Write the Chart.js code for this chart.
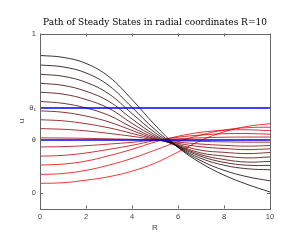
<!DOCTYPE html>
<html>
<head>
<meta charset="utf-8">
<script src="https://cdn.jsdelivr.net/npm/chart.js@4.4.1/dist/chart.umd.min.js"></script>
<style>
  html, body { margin: 0; padding: 0; background: #fff; }
  #wrap { width: 300px; height: 250px; }
</style>
</head>
<body>
<div id="wrap"><canvas id="chart" width="300" height="250"></canvas></div>
<script>
// sample positions along R
var radius = [0, 1, 2, 3, 4, 5, 6, 7, 8, 9, 10];

// steady state profiles (black at the top, red at the bottom)
var u00 = [0.862, 0.850, 0.812, 0.728, 0.585, 0.425, 0.285, 0.185, 0.110, 0.052, 0.004];
var u01 = [0.802, 0.790, 0.752, 0.672, 0.536, 0.396, 0.285, 0.200, 0.140, 0.100, 0.074];
var u02 = [0.744, 0.731, 0.693, 0.620, 0.497, 0.377, 0.287, 0.215, 0.172, 0.150, 0.143];
var u03 = [0.687, 0.674, 0.637, 0.573, 0.463, 0.362, 0.290, 0.228, 0.190, 0.172, 0.171];
var u04 = [0.631, 0.619, 0.585, 0.529, 0.435, 0.352, 0.293, 0.238, 0.208, 0.192, 0.196];
var u05 = [0.573, 0.561, 0.532, 0.485, 0.410, 0.344, 0.297, 0.249, 0.230, 0.218, 0.224];
var u06 = [0.514, 0.505, 0.481, 0.444, 0.391, 0.338, 0.302, 0.266, 0.253, 0.245, 0.252];
var u07 = [0.458, 0.451, 0.433, 0.407, 0.372, 0.335, 0.309, 0.288, 0.277, 0.270, 0.275];
var u08 = [0.402, 0.398, 0.388, 0.372, 0.354, 0.332, 0.317, 0.305, 0.297, 0.292, 0.296];
var u09 = [0.344, 0.343, 0.341, 0.338, 0.335, 0.330, 0.326, 0.322, 0.319, 0.317, 0.317];
var u10 = [0.287, 0.289, 0.295, 0.305, 0.316, 0.330, 0.338, 0.344, 0.348, 0.349, 0.349];
var u11 = [0.229, 0.234, 0.249, 0.272, 0.297, 0.327, 0.348, 0.362, 0.370, 0.371, 0.367];
var u12 = [0.173, 0.179, 0.198, 0.232, 0.272, 0.318, 0.354, 0.379, 0.392, 0.395, 0.389];
var u13 = [0.114, 0.120, 0.140, 0.173, 0.215, 0.267, 0.320, 0.362, 0.393, 0.408, 0.411];
var u14 = [0.058, 0.062, 0.078, 0.100, 0.135, 0.185, 0.255, 0.328, 0.382, 0.416, 0.433];
var profiles = [u00, u01, u02, u03, u04, u05, u06, u07, u08, u09, u10, u11, u12, u13, u14];

// the two horizontal levels
var theta = 0.331;
var theta1 = 0.531;

// ticks
var xTicks = [0, 2, 4, 6, 8, 10];
var yTicks = [0, theta, theta1, 1];
var yTickLabels = ['0', 'θ', 'θ₁', '1'];

var datasets = profiles.map(function (p, i) {
    var k = Math.round(255 * i / (profiles.length - 1));
    return {
        data: p.map(function (v, j) { return { x: radius[j], y: v }; }),
        borderColor: 'rgb(' + k + ',0,0)',
        borderWidth: 0.8,
        pointRadius: 0,
        tension: 0.4,
        order: 2
    };
});
[theta1, theta].forEach(function (level) {
    datasets.push({
        data: [{ x: radius[0], y: level }, { x: radius[radius.length - 1], y: level }],
        borderColor: '#0000ff',
        borderWidth: 1.5,
        pointRadius: 0,
        order: 1
    });
});

// box round the plot with small inward ticks, like the original
var framePlugin = {
    id: 'frame',
    afterDraw: function (chart) {
        var ctx = chart.ctx, a = chart.chartArea;
        var sx = chart.scales.x, sy = chart.scales.y;
        ctx.save();
        ctx.strokeStyle = '#666';
        ctx.lineWidth = 1;
        ctx.strokeRect(Math.round(a.left) + 0.5, Math.round(a.top) + 0.5,
            Math.round(a.right - a.left), Math.round(a.bottom - a.top));
        ctx.beginPath();
        sx.ticks.forEach(function (t) {
            var px = Math.round(sx.getPixelForValue(t.value)) + 0.5;
            ctx.moveTo(px, a.bottom); ctx.lineTo(px, a.bottom - 3);
            ctx.moveTo(px, a.top); ctx.lineTo(px, a.top + 3);
        });
        sy.ticks.forEach(function (t) {
            var py = Math.round(sy.getPixelForValue(t.value)) + 0.5;
            ctx.moveTo(a.left, py); ctx.lineTo(a.left + 3, py);
            ctx.moveTo(a.right, py); ctx.lineTo(a.right - 3, py);
        });
        ctx.stroke();
        ctx.restore();
    }
};

var tickFont = { family: 'Liberation Sans', size: 7.5 };

new Chart(document.getElementById('chart'), {
    type: 'line',
    data: { datasets: datasets },
    options: {
        responsive: false,
        animation: false,
        layout: { padding: { left: 10, right: 0, top: 0, bottom: 0 } },
        plugins: {
            legend: { display: false },
            tooltip: { enabled: false },
            title: {
                display: true,
                text: 'Path of Steady States in radial coordinates R=10',
                color: '#000',
                font: { family: 'DejaVu Serif', size: 9, weight: 'normal' },
                padding: { top: 17.6, bottom: 5.1 }
            }
        },
        scales: {
            x: {
                type: 'linear',
                min: 0,
                max: 10,
                afterBuildTicks: function (s) { s.ticks = xTicks.map(function (v) { return { value: v }; }); },
                afterFit: function (s) { s.height = 41.5; },
                grid: { display: false, drawTicks: false },
                border: { display: false },
                ticks: { color: '#444', font: tickFont, padding: 4, autoSkip: false, maxRotation: 0 },
                title: { display: true, text: 'R', color: '#444', font: { family: 'Liberation Sans', size: 8 }, padding: { top: 0, bottom: 17.4 } }
            },
            y: {
                type: 'linear',
                min: -0.1,
                max: 1,
                afterBuildTicks: function (s) { s.ticks = yTicks.map(function (v) { return { value: v }; }); },
                afterFit: function (s) { s.width = 30; },
                grid: { display: false, drawTicks: false },
                border: { display: false },
                ticks: {
                    color: '#444', font: tickFont, padding: 4, autoSkip: false,
                    callback: function (v, i) { return yTickLabels[i]; }
                },
                title: { display: true, text: 'u', color: '#444', font: { family: 'Liberation Sans', size: 8 }, padding: { top: 7, bottom: 0 } }
            },
            // empty right-hand axis, only keeps the margin on that side
            yRight: {
                type: 'linear',
                position: 'right',
                min: -0.1,
                max: 1,
                afterFit: function (s) { s.width = 30; },
                grid: { display: false, drawTicks: false },
                border: { display: false },
                ticks: { display: false }
            }
        }
    },
    plugins: [framePlugin]
});
</script>
</body>
</html>
